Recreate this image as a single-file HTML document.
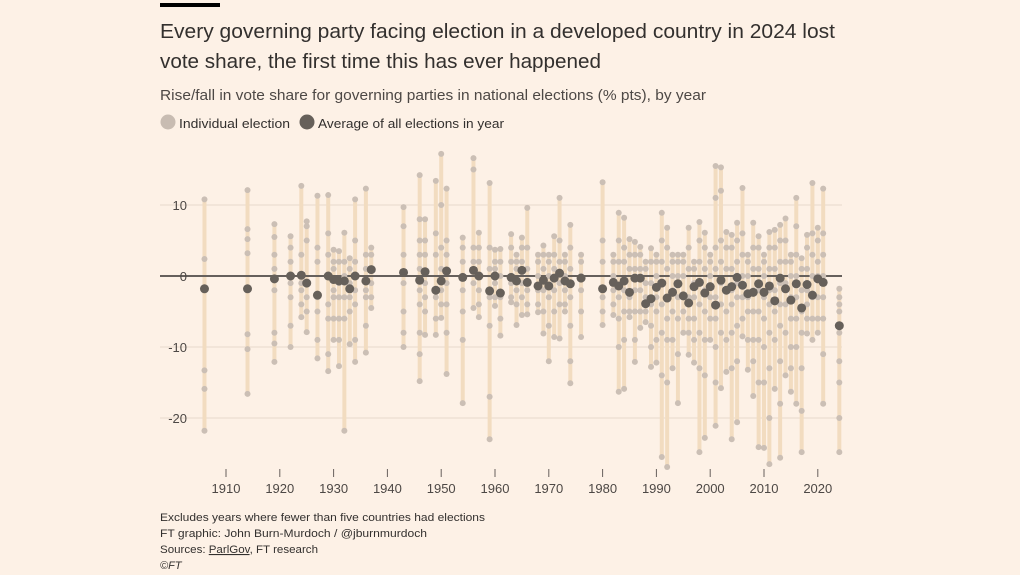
<!DOCTYPE html>
<html><head><meta charset="utf-8"><style>
html,body{margin:0;padding:0;background:#fdf1e6;}
svg{display:block;font-family:"Liberation Sans",sans-serif;}
</style></head><body>
<svg id="chart" width="1020" height="575" viewBox="0 0 1020 575" xmlns="http://www.w3.org/2000/svg">
<rect x="0" y="0" width="1020" height="575" fill="#fdf1e6"/>
<rect x="160" y="3" width="60" height="4" fill="#000"/>
<text x="160" y="38" font-size="20" fill="#33302e" textLength="675" lengthAdjust="spacingAndGlyphs">Every governing party facing election in a developed country in 2024 lost</text>
<text x="160" y="68" font-size="20" fill="#33302e" textLength="441" lengthAdjust="spacingAndGlyphs">vote share, the first time this has ever happened</text>
<text x="160" y="100" font-size="15" fill="#4d4845" textLength="546" lengthAdjust="spacingAndGlyphs">Rise/fall in vote share for governing parties in national elections (% pts), by year</text>
<g>
<circle cx="168" cy="122" r="7.5" fill="#c8bcb2"/>
<text x="179" y="128" font-size="13" fill="#33302e" textLength="111" lengthAdjust="spacingAndGlyphs">Individual election</text>
<circle cx="307" cy="122" r="7.5" fill="#66605a"/>
<text x="318" y="128" font-size="13" fill="#33302e" textLength="186" lengthAdjust="spacingAndGlyphs">Average of all elections in year</text>
</g>
<g id="grid"></g><g id="bars"></g><g id="zero"></g><g id="pts"></g><g id="avgs"></g><g id="axes"></g>
<g font-size="11" fill="#33302e">
<text x="160" y="521" textLength="325" lengthAdjust="spacingAndGlyphs">Excludes years where fewer than five countries had elections</text>
<text x="160" y="537" textLength="267" lengthAdjust="spacingAndGlyphs">FT graphic: John Burn-Murdoch / @jburnmurdoch</text>
<text x="160" y="553" textLength="158" lengthAdjust="spacingAndGlyphs">Sources: <tspan text-decoration="underline">ParlGov</tspan>, FT research</text>
<text x="160" y="569" font-style="italic">©FT</text>
</g>
</svg>
<script>
const years = [1906,1914,1919,1922,1924,1925,1927,1929,1930,1931,1932,1933,1934,1936,1937,1943,1946,1947,1949,1950,1951,1954,1956,1957,1959,1960,1961,1963,1964,1965,1966,1968,1969,1970,1971,1972,1973,1974,1976,1980,1982,1983,1984,1985,1986,1987,1988,1989,1990,1991,1992,1993,1994,1995,1996,1997,1998,1999,2000,2001,2002,2003,2004,2005,2006,2007,2008,2009,2010,2011,2012,2013,2014,2015,2016,2017,2018,2019,2020,2021,2024];
const maxs = [10.8,12.1,7.3,5.6,12.7,7.7,11.3,11.4,3.7,3.5,6.1,2.5,10.8,12.3,4.0,9.7,14.2,8.0,13.4,17.2,12.3,5.4,16.6,6.1,13.1,3.7,3.8,5.9,3.0,5.4,9.6,3.0,4.3,3.0,5.6,11.0,3.0,7.2,3.0,13.2,3.0,8.9,8.2,5.2,4.8,4.1,2.0,3.9,3.0,8.9,6.8,3.0,3.0,3.0,6.8,2.0,7.6,6.1,3.0,15.5,15.3,6.2,5.8,7.5,12.4,3.0,7.5,5.6,3.0,6.2,6.5,7.2,8.1,3.0,11.0,2.5,5.8,13.1,6.8,12.3,-1.8];
const mins = [-21.8,-16.6,-12.1,-10.0,-5.8,-7.9,-11.6,-13.4,-9.0,-12.7,-21.8,-9.6,-12.1,-10.8,-4.5,-10.0,-14.8,-8.3,-8.3,-5.9,-13.8,-17.9,-4.5,-5.8,-23.0,-4.2,-8.4,-3.7,-6.9,-5.5,-5.4,-5.1,-8.1,-12.0,-8.6,-8.8,-5.0,-15.1,-8.6,-6.9,-5.5,-16.3,-15.9,-5.8,-12.1,-7.3,-6.5,-12.8,-12.2,-25.5,-26.9,-13.0,-17.9,-8.0,-11.1,-12.2,-24.8,-22.8,-9.0,-21.1,-15.8,-13.5,-23.0,-20.6,-8.5,-13.2,-16.9,-24.1,-24.2,-26.5,-15.9,-25.6,-14.0,-16.3,-18.0,-24.8,-8.1,-9.0,-8.0,-18.0,-24.8];
const avgs = [-1.8,-1.8,-0.4,0.0,0.1,-1.0,-2.7,0.0,-0.5,-0.7,-0.7,-1.8,0.0,-0.7,0.9,0.5,-0.6,0.6,-2.0,-0.7,0.7,-0.2,0.8,0.0,-2.1,0.0,-2.4,-0.2,-0.7,0.8,-0.9,-1.4,-0.6,-1.4,-0.3,0.4,-0.7,-1.1,-0.3,-1.8,-0.9,-1.4,-0.7,-2.3,-0.3,-0.3,-3.9,-3.2,-1.6,-1.0,-3.1,-2.3,-1.1,-2.8,-3.8,-1.5,-0.9,-2.4,-1.5,-4.1,-0.6,-2.0,-1.5,-0.2,-1.3,-2.5,-2.3,-1.1,-2.3,-1.4,-3.5,-0.3,-1.8,-3.4,-1.1,-4.5,-1.2,-2.7,-0.4,-0.9,-7.0];
const others = [
[2.4,-13.3,-15.9],[6.6,5.2,3.2,-8.2,-10.3],[5.5,3,1,-2,-8,-9.5],[4,2,-1,-3,-7],[3,-1,-2,-4],[7,5,-3,-5],[4,2,-3,-5,-9],[6,3,-4,-6,-11],[2,1,-2,-3,-6],[2,-1,-3,-6,-9],[2,0,-3,-6],[1,-1,-3,-5],[5,2,-2,-4,-9],[3,1,-2,-3,-7],[3,1,-1,-3],
[7,3,-1,-5,-8],[8,5,3,1,-2,-4,-8,-11],[5,3,-1,-3,-5],[6,3,-3,-6],[10,4,1,-2,-4],[5,3,-1,-4,-8],[4,2,-2,-5,-9],[15,4,2,-1],[4,2,-2,-4],[4,1,-3,-7,-17],[2,1,-1,-3],
[2,0,-3,-6],[4,2,-1,-3],[2,1,-2,-4],[4,2,-1,-3],[4,1,-2,-4],[2,0,-2,-4],[3,1,-2,-5],[2,0,-3,-7],[3,1,-2,-5],[5,2,-1,-4],[2,0,-2,-4],[4,1,-3,-7,-12],[2,0,-2,-5],[5,2,-3,-5],
[2,0,-2,-4],[5,2,-3,-6,-10],[4,2,-2,-5,-9],[3,1,-3,-5],[3,1,-2,-5,-9],[3,1,-2,-5],[1,-1,-3,-5],[2,-1,-4,-7,-10],[2,0,-3,-5,-9],[5,2,-1,-4,-8,-14],[4,1,-3,-6,-9,-15],[2,0,-2,-5,-9],[2,0,-3,-6,-11],[2,0,-3,-5],[4,1,-3,-6,-8],[1,-1,-3,-6,-9],[5,2,-1,-4,-8,-13],[4,1,-2,-5,-9,-14],[2,0,-3,-6],[11,4,1,-3,-6,-10,-15],[12,5,2,-1,-4,-8],[4,1,-2,-5,-9],[4,1,-2,-4,-8,-13],[5,2,-1,-3,-7,-12],[6,3,0,-3,-6],[2,0,-3,-5,-9],[4,1,-2,-5,-9,-12],[4,1,-2,-5,-9,-15],[2,0,-3,-6,-10,-15],[4,1,-2,-4,-8,-13,-20],[4,1,-2,-5,-9],[5,2,-1,-4,-7,-12,-18],[5,2,-1,-4,-8],[2,0,-3,-6,-10,-13],[7,3,0,-3,-6,-10],[1,-2,-5,-8,-13,-19],[4,1,-2,-4,-6],[6,3,0,-3,-6],[5,2,0,-3,-6],[6,3,0,-3,-6,-11],[-3,-4,-5,-8,-12,-15,-20]
];
const yTicks = [10,0,-10,-20];
const xTicks = [1910,1920,1930,1940,1950,1960,1970,1980,1990,2000,2010,2020];

const NS = "http://www.w3.org/2000/svg";
const x = yr => 226 + (yr - 1910) * 5.38;
const y = v => 276 - v * 7.1;
function mk(parent, tag, attrs) {
  const el = document.createElementNS(NS, tag);
  for (const k in attrs) el.setAttribute(k, attrs[k]);
  document.getElementById(parent).appendChild(el);
  return el;
}
yTicks.forEach(t => {
  if (t !== 0) {
    const g = mk('grid', 'line', {x1:160, x2:842, y1:y(t), y2:y(t), stroke:'#e8d9cc', 'stroke-width':1});
    
    
  }
  const lb = mk('axes', 'text', {x:187, y:y(t)+5, 'text-anchor':'end', 'font-size':13, fill:'#4d4845'});
  lb.textContent = t;
  
  
});
xTicks.forEach(t => {
  const tk = mk('axes', 'line', {x1:x(t), x2:x(t), y1:469, y2:477, stroke:'#66605c', 'stroke-width':1});
  
  
  const lb = mk('axes', 'text', {x:x(t), y:493, 'text-anchor':'middle', 'font-size':13, fill:'#4d4845'});
  lb.textContent = t;
  
  
});
const z = mk('zero', 'line', {x1:160, x2:842, y1:y(0), y2:y(0), stroke:'#66605c', 'stroke-width':2});


years.forEach((yr, i) => {
  const b = mk('bars', 'line', {x1:x(yr), x2:x(yr), y1:y(maxs[i]), y2:y(mins[i]), stroke:'#f2dcc0', 'stroke-width':4});
  
  
  [maxs[i], mins[i]].concat(others[i]).forEach(v => {
    const c = mk('pts', 'circle', {cx:x(yr), cy:y(v), r:3, fill:'#cbbfb5'});
    
    
  });
  const a = mk('avgs', 'circle', {cx:x(yr), cy:y(avgs[i]), r:4.5, fill:'#66605a'});
  
  
});
</script>
</body></html>
